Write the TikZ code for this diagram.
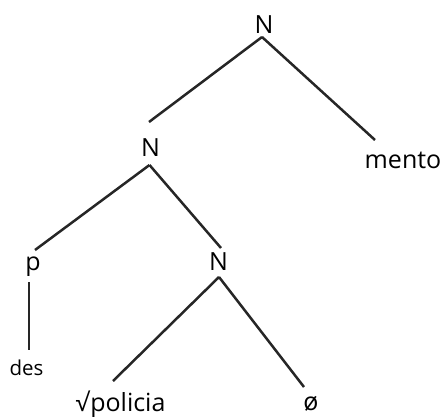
\documentclass[tikz,border=0pt]{standalone}
\usepackage{fontspec}
\setmainfont{Open Sans}
\begin{document}
\begin{tikzpicture}[x=1pt, y=-1pt,
    cat/.style={inner sep=0, anchor=base, font=\fontsize{25}{30}\selectfont},
    small/.style={inner sep=0, anchor=base, font=\fontsize{20.5}{25}\selectfont},
    branch/.style={line width=2.5pt, color=black!85}]
    \useasboundingbox (0,0) rectangle (441,416);

    % Noeuds (categories)
    \node [cat] (nTop) at (264, 33) {N};
    \node [cat] (nA) at (150.5, 156) {N};
    \node [cat] (nB) at (218.5, 270) {N};
    \node [cat] (nP) at (33, 270) {p};

    % Feuilles
    \node [cat] (nMento) at (403, 168) {mento};
    \node [small] (nDes) at (26.5, 375) {des};
    \node [cat] (nRoot) at (120.5, 411) {√\kern1pt policia};
    \node [cat] (nNull) at (311, 410) {ø};

    % Branches
    \draw [branch] ([shift={(-2,4)}]nTop.base) -- ([shift={(-1.5,-34)}]nA.base);
    \draw [branch] ([shift={(-2,4)}]nTop.base) -- ([shift={(-28,-28)}]nMento.base);
    \draw [branch] ([shift={(-1,9)}]nA.base) -- ([shift={(2,-20)}]nP.base);
    \draw [branch] ([shift={(-1,9)}]nA.base) -- ([shift={(2.5,-22)}]nB.base);
    \draw [branch] ([shift={(-4,12)}]nP.base) -- ([shift={(2.5,-25)}]nDes.base);
    \draw [branch] ([shift={(0.5,7)}]nB.base) -- ([shift={(-7.5,-30)}]nRoot.base);
    \draw [branch] ([shift={(0.5,7)}]nB.base) -- ([shift={(-7,-23)}]nNull.base);
\end{tikzpicture}
\end{document}
